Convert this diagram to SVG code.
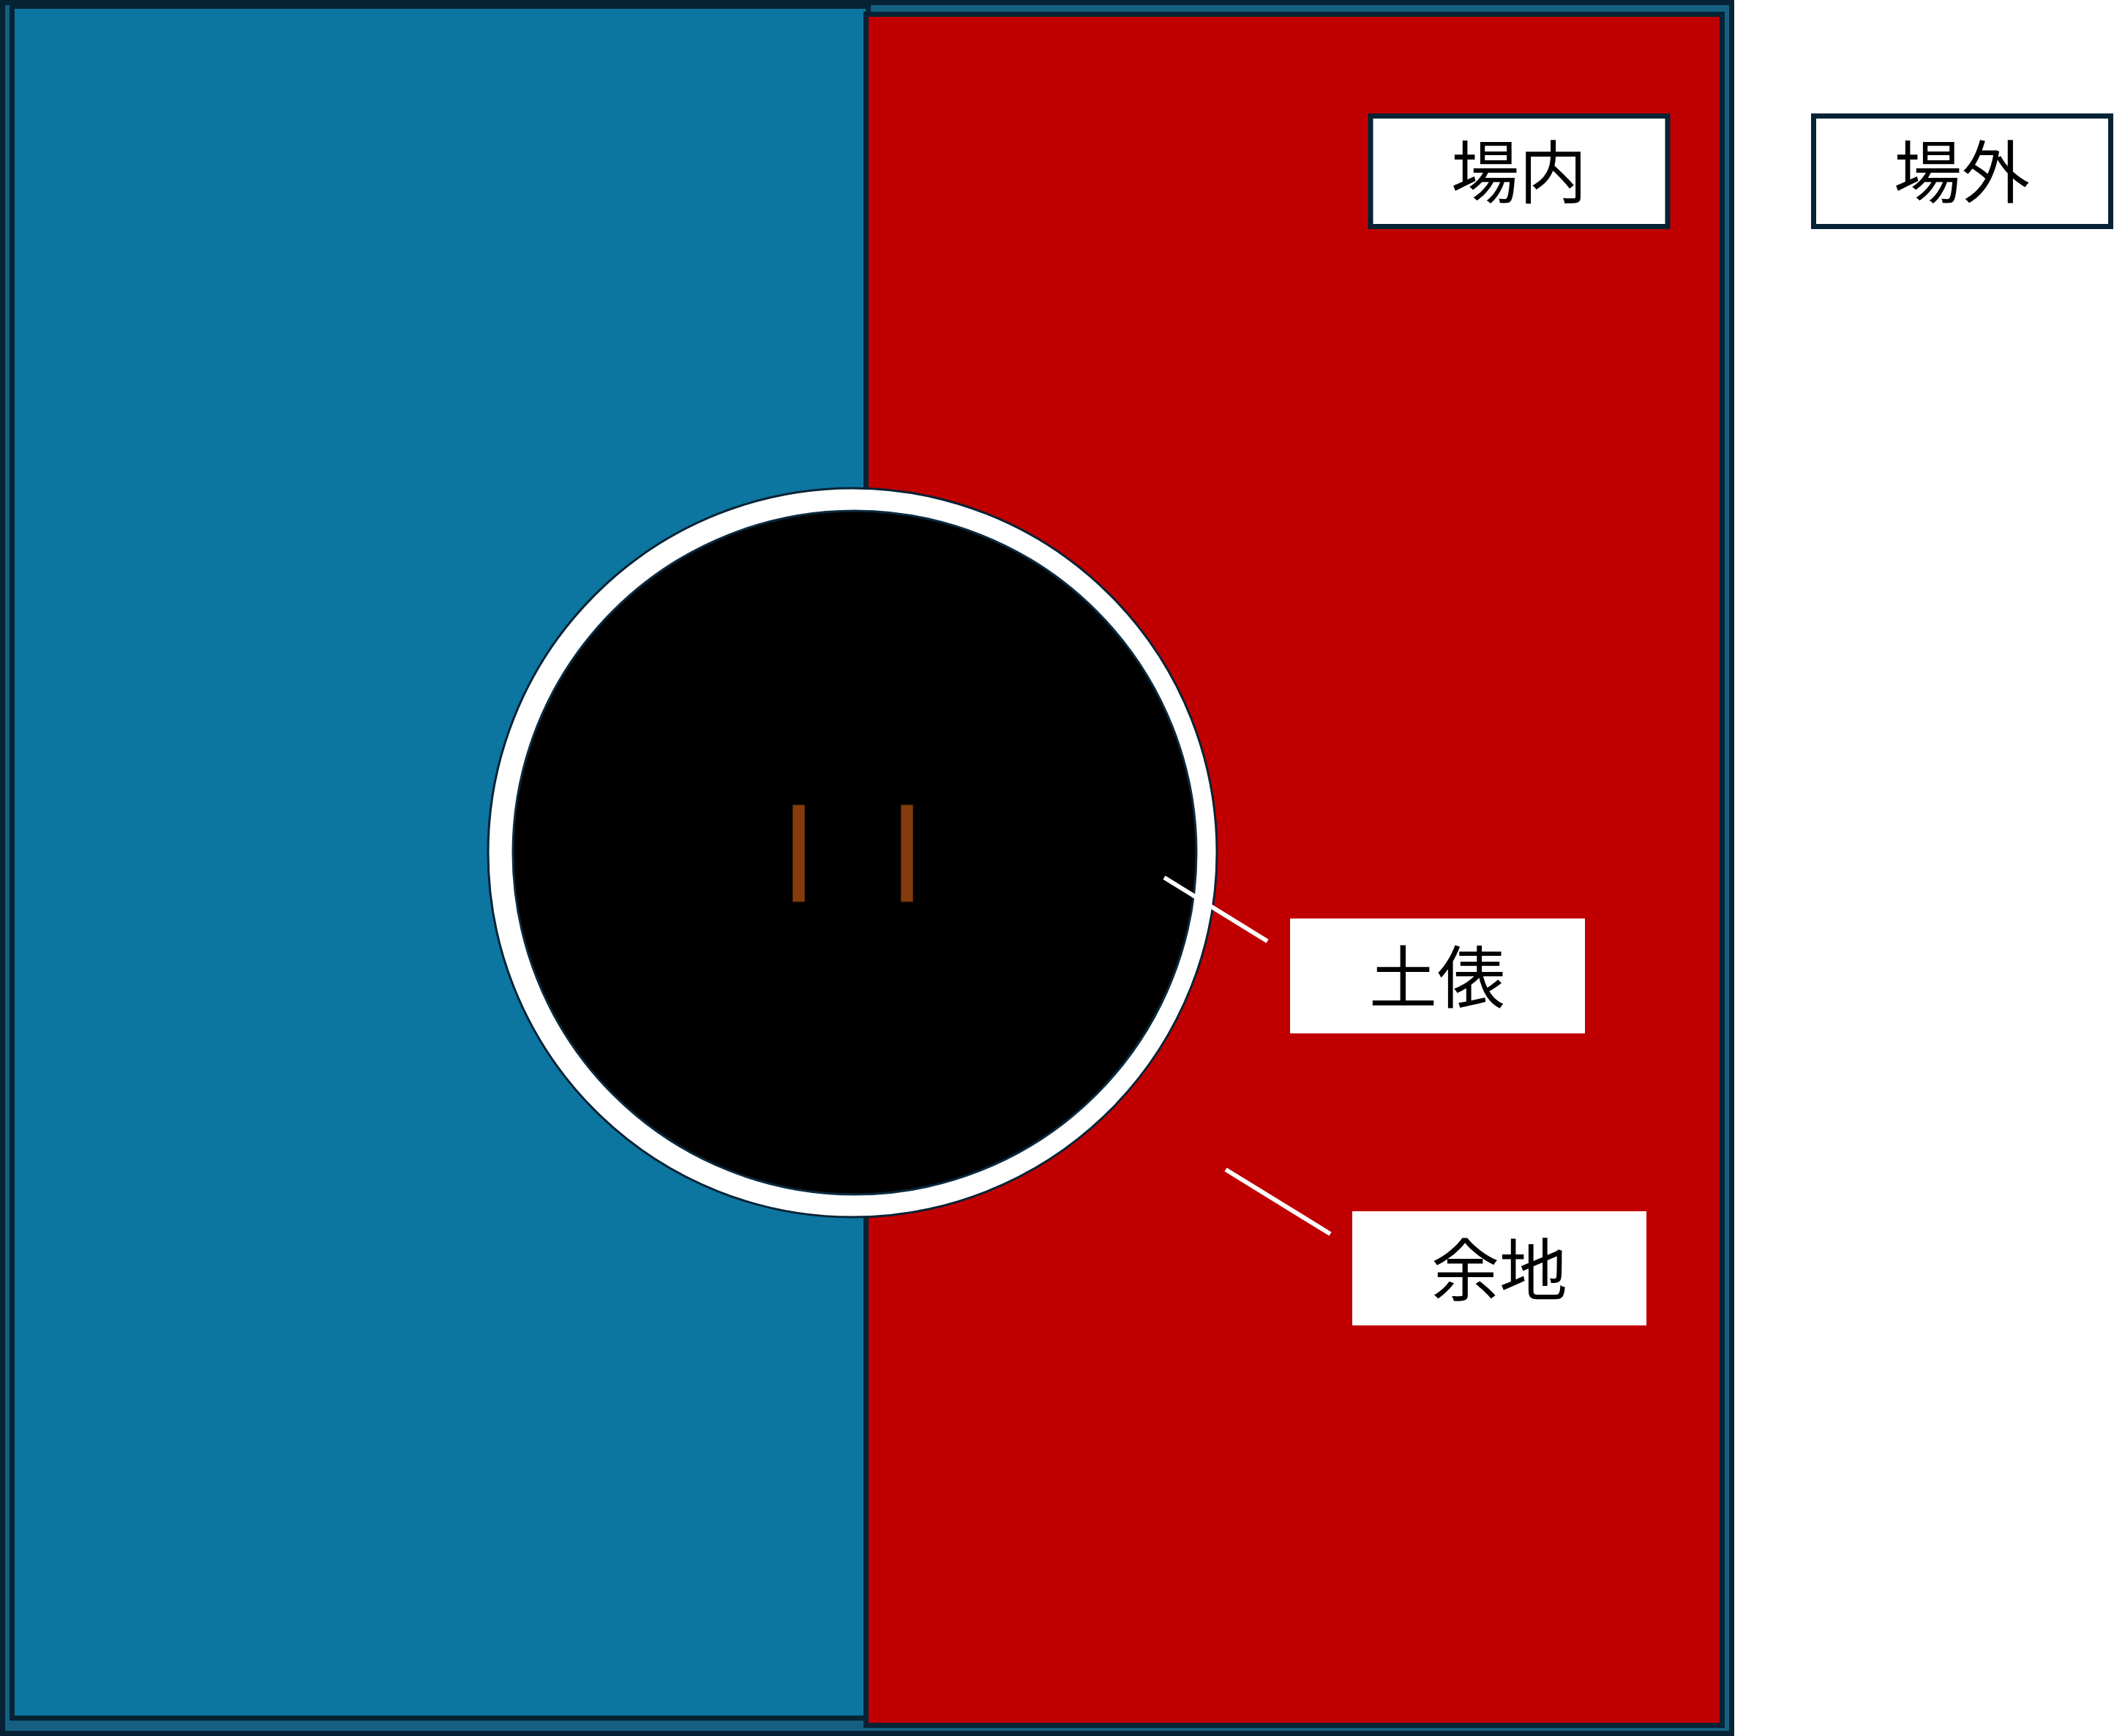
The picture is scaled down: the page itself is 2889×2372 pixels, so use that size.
<svg xmlns="http://www.w3.org/2000/svg" width="2889" height="2372" viewBox="0 0 2889 2372">
  <style>
    .frame { stroke: #062336; stroke-width: 7; }
    .label { fill: #FFFFFF; }
    .labelbox { fill: #FFFFFF; stroke: #062336; stroke-width: 7; }
    .txt { font-family: "Noto Sans CJK JP", "Noto Sans CJK SC", sans-serif; font-size: 93px; fill: #000000; text-anchor: middle; dominant-baseline: central; }
    .bar { fill: #843C0C; stroke: #5A2808; stroke-width: 1; }
    .conn { stroke: #FFFFFF; stroke-width: 6; fill: none; }
  </style>
  <rect width="2889" height="2372" fill="#FFFFFF"/>
  <g id="outer-frame">
    <rect class="frame" x="3.5" y="3.5" width="2363" height="2365" fill="#156082"/>
  </g>
  <g id="blue-area">
    <rect class="frame" x="16.5" y="8.5" width="1170" height="2339" fill="#0C76A0"/>
  </g>
  <g id="red-area">
    <rect class="frame" x="1183.5" y="19.5" width="1170" height="2338" fill="#C00000"/>
  </g>
  <g id="ring">
    <circle cx="1165" cy="1165" r="498" fill="#FFFFFF" stroke="#062336" stroke-width="3"/>
    <circle cx="1168" cy="1165" r="467" fill="#000000" stroke="#0A2A40" stroke-width="3"/>
  </g>
  <g id="shikiri-sen">
    <rect class="bar" x="1083.5" y="1100" width="16" height="132"/>
    <rect class="bar" x="1231.5" y="1100" width="16" height="132"/>
  </g>
  <g id="connectors">
    <line class="conn" x1="1591" y1="1199" x2="1732" y2="1286"/>
    <line class="conn" x1="1675" y1="1598" x2="1818" y2="1686"/>
  </g>
  <g id="jonai">
    <rect class="labelbox" x="1873" y="158.5" width="406" height="151"/>
    <text class="txt" x="2076" y="229">場内</text>
  </g>
  <g id="jogai">
    <rect class="labelbox" x="2478.5" y="158.5" width="406" height="151"/>
    <text class="txt" x="2681" y="229">場外</text>
  </g>
  <g id="tawara">
    <rect class="label" x="1763" y="1255" width="403" height="157"/>
    <text class="txt" x="1964" y="1329">土俵</text>
  </g>
  <g id="yochi">
    <rect class="label" x="1848" y="1655" width="402" height="156"/>
    <text class="txt" x="2049" y="1729">余地</text>
  </g>
</svg>
